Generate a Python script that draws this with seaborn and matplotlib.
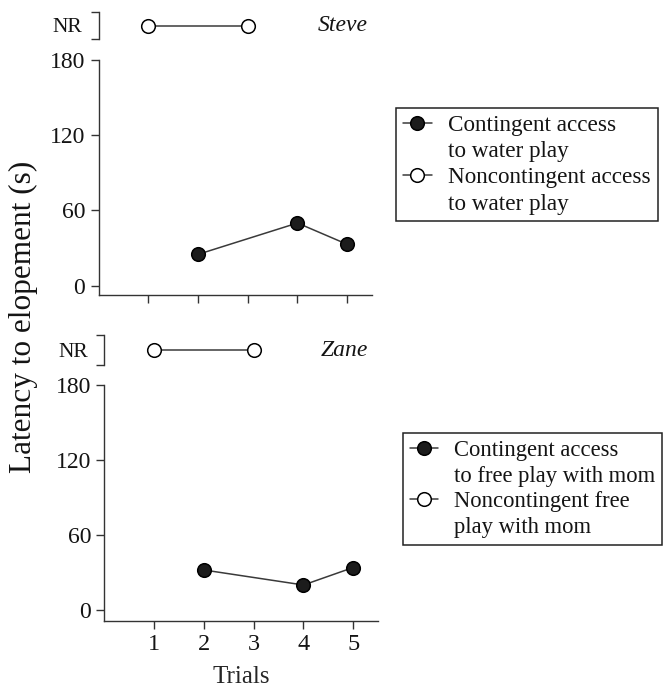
import matplotlib
matplotlib.use("Agg")
import matplotlib.pyplot as plt
from matplotlib.lines import Line2D
import seaborn as sns
import pandas as pd

# ---------------- data ----------------
trials_ticks = [1, 2, 3, 4, 5]
y_ticks = [0, 60, 120, 180]

steve_cont_trials = [2, 4, 5]
steve_cont_latency = [25, 50, 33]
steve_nr_trials = [1, 3]          # no response (NR) trials
steve_nr_values = ["NR", "NR"]

zane_cont_trials = [2, 4, 5]
zane_cont_latency = [32, 20, 34]
zane_nr_trials = [1, 3]
zane_nr_values = ["NR", "NR"]

steve_labels = ["Contingent access\nto water play",
                "Noncontingent access\nto water play"]
zane_labels = ["Contingent access\nto free play with mom",
               "Noncontingent free\nplay with mom"]
names = ["Steve", "Zane"]

# ---------------- style ----------------
sns.set_style("ticks")
plt.rcParams["font.family"] = ["Liberation Serif", "DejaVu Serif"]
plt.rcParams["axes.edgecolor"] = "#333333"
plt.rcParams["xtick.color"] = "#333333"
plt.rcParams["ytick.color"] = "#333333"
plt.rcParams["text.color"] = "#141414"
plt.rcParams["xtick.labelcolor"] = "#141414"
plt.rcParams["ytick.labelcolor"] = "#141414"
plt.rcParams["axes.linewidth"] = 1.0

W, H = 664, 687
fig = plt.figure(figsize=(W / 100, H / 100), dpi=100)

NR_MAP = {"NR": 0}
LINE_C = "#3a3a3a"
MS = 9.8


def px_axes(left, top, right, bottom):
    return fig.add_axes([left / W, 1 - bottom / H, (right - left) / W, (bottom - top) / H])


panels = [
    dict(name=names[0], cont_x=steve_cont_trials, cont_y=steve_cont_latency,
         nr_x=steve_nr_trials, nr_y=steve_nr_values, labels=steve_labels,
         main=(98.5, 60, 98.5 + 273.6, 295), ymin=-7.4,
         nr=(98.5, 12, 98.5 + 273.6, 39), name_x=0.985,
         leg=(396, 108), legfs=16.7, xlabels=False),
    dict(name=names[1], cont_x=zane_cont_trials, cont_y=zane_cont_latency,
         nr_x=zane_nr_trials, nr_y=zane_nr_values, labels=zane_labels,
         main=(104.5, 385, 104.5 + 273.6, 621), ymin=-8.8,
         nr=(104.5, 335, 104.5 + 273.6, 365), name_x=0.965,
         leg=(403, 433), legfs=16.3, xlabels=True),
]

for p in panels:
    ax = px_axes(*p["main"])
    df = pd.DataFrame({"trial": p["cont_x"], "latency": p["cont_y"]})
    sns.lineplot(data=df, x="trial", y="latency", ax=ax, color=LINE_C,
                 linewidth=1.1, marker="o", markersize=MS,
                 markerfacecolor="#1c1c1c", markeredgecolor="#000000",
                 markeredgewidth=1.1, legend=False, clip_on=False)
    h_cont = ax.lines[-1]
    ax.set_xlim(0, 5.5)
    ax.set_ylim(p["ymin"], 180)
    ax.set_xticks(trials_ticks)
    ax.set_yticks(y_ticks)
    ax.set_yticklabels([str(v) for v in y_ticks], fontsize=17)
    if p["xlabels"]:
        ax.set_xticklabels([str(t) for t in trials_ticks], fontsize=17.5)
        ax.set_xlabel("Trials", fontsize=18, labelpad=8)
    else:
        ax.set_xticklabels([])
        ax.set_xlabel("")
    ax.set_ylabel("")
    ax.tick_params(axis="y", length=6, width=1.0, pad=3.5)
    ax.tick_params(axis="x", length=5.5, width=1.0, pad=4)
    for s in ("top", "right"):
        ax.spines[s].set_visible(False)

    # NR strip above the axis
    nax = px_axes(*p["nr"])
    ndf = pd.DataFrame({"trial": p["nr_x"],
                        "pos": [NR_MAP[v] for v in p["nr_y"]]})
    sns.lineplot(data=ndf, x="trial", y="pos", ax=nax, color=LINE_C,
                 linewidth=1.1, marker="o", markersize=MS,
                 markerfacecolor="white", markeredgecolor="#000000",
                 markeredgewidth=1.1, legend=False, clip_on=False)
    h_nr = nax.lines[-1]
    nax.set_xlim(0, 5.5)
    nax.set_ylim(-1, 1)
    nax.set_xlabel("")
    nax.set_ylabel("")
    nax.set_xticks([])
    nax.set_yticks([0])
    nax.set_yticklabels(["NR"], fontsize=15.5)
    nax.set_yticks([-1, 1], minor=True)
    nax.tick_params(axis="y", which="major", length=0, pad=12)
    nax.tick_params(axis="y", which="minor", length=6, width=1.0)
    for s in ("top", "right", "bottom"):
        nax.spines[s].set_visible(False)
    nax.patch.set_visible(False)
    nax.text(p["name_x"], 0.5, p["name"], transform=nax.transAxes,
             ha="right", va="center", fontsize=17, style="italic")

    # legend: handle aligned with the first line of each label
    blank = Line2D([], [], linestyle="none", marker=None, alpha=0)
    handles, labels = [], []
    for h, lab in zip([h_cont, h_nr], p["labels"]):
        first, second = lab.split("\n")
        handles += [h, blank]
        labels += [first, second]

    lx, ly = p["leg"]
    leg = fig.legend(handles=handles, labels=labels,
                     loc="upper left", bbox_to_anchor=(lx / W, 1 - ly / H),
                     bbox_transform=fig.transFigure, borderaxespad=0,
                     fontsize=p["legfs"], frameon=True, fancybox=False,
                     edgecolor="#222222", framealpha=1,
                     handlelength=1.25, handletextpad=0.7, labelspacing=0.21,
                     borderpad=0.3)
    leg.get_frame().set_linewidth(1.1)

fig.text(23.5 / W, 1 - 316.5 / H, "Latency to elopement (s)", rotation=90,
         ha="center", va="center", fontsize=22.5)

fig.savefig("out.png", dpi=100)
